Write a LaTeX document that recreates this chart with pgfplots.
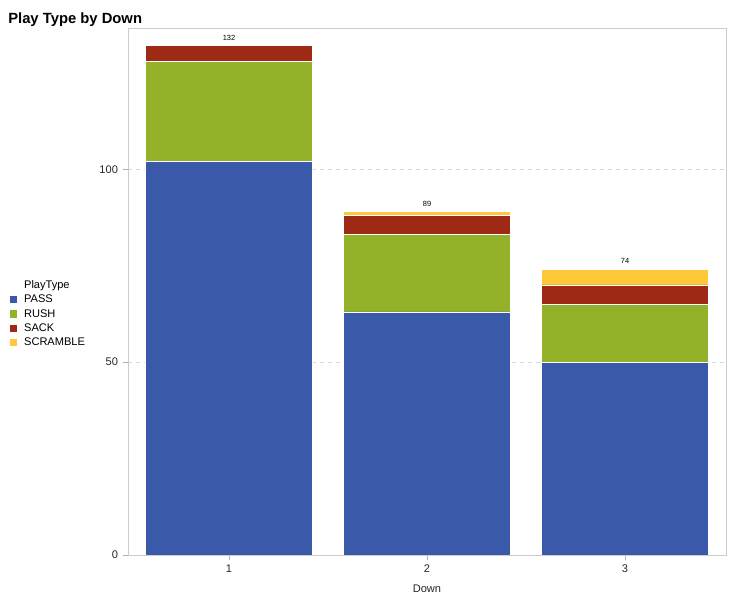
\documentclass[border=0pt]{standalone}
\usepackage{pgfplots}
\pgfplotsset{compat=1.18}
\usepackage{fontspec}
\setmainfont{Liberation Sans}
\definecolor{cpass}{HTML}{3A59A9}
\definecolor{crush}{HTML}{94B12A}
\definecolor{csack}{HTML}{9E2914}
\definecolor{cscr}{HTML}{FFC73A}
\pgfplotsset{
  commonax/.style={
    at={(96pt,33pt)}, anchor=south west, scale only axis,
    width=448.5pt, height=395.25pt,
    xmin=0.49, xmax=3.51, ymin=0, ymax=136.6,
    /pgf/number format/assume math mode=true,
  }
}
\begin{document}
\begin{tikzpicture}
\useasboundingbox (0,0) rectangle (555pt,449.25pt);
\node[anchor=base west, inner sep=0pt, font=\bfseries\fontsize{11.1}{13}\selectfont] at (6pt,431.5pt) {Play Type by Down};
\begin{axis}[
  commonax,
  ybar stacked, bar width=0.84,
  xtick={1,2,3}, ytick={0,50,100},
  ymajorgrids, grid style={dashed, color=gray!30},
  axis line style={color=gray!40},
  tick style={color=gray!60},
  tick align=outside, major tick length=4pt,
  xtick pos=left, ytick pos=left,
  tick label style={font=\fontsize{8.3}{10}\selectfont, color=black!85},
  xlabel={Down}, xlabel style={font=\fontsize{8.3}{10}\selectfont, color=black!85, yshift=-2.2pt},
  legend style={at={(-0.198,0.457)}, anchor=west, draw=none, fill=none,
    font=\fontsize{8.3}{10}\selectfont, inner sep=0pt, row sep=0.9pt,
    cells={anchor=west}, nodes={inner sep=1.3pt}},
  legend image code/.code={\fill[#1,draw=none] (0pt,-2.5pt) rectangle (5.4pt,2.9pt); \path[draw=none,fill=none] (0pt,0pt) -- (9.4pt,0pt);},
]
\addlegendimage{empty legend}
\addlegendentry{PlayType}
\addplot[fill=cpass, draw=white, line width=0.6pt] coordinates {(1,102) (2,63) (3,50)};
\addlegendentry{PASS}
\addplot[fill=crush, draw=white, line width=0.6pt] coordinates {(1,26) (2,20) (3,15)};
\addlegendentry{RUSH}
\addplot[fill=csack, draw=white, line width=0.6pt] coordinates {(1,4) (2,5) (3,5)};
\addlegendentry{SACK}
\addplot[fill=cscr, draw=white, line width=0.6pt] coordinates {(1,0) (2,1) (3,4)};
\addlegendentry{SCRAMBLE}
\end{axis}
\begin{axis}[
  commonax, hide axis, ybar, bar width=0.84,
]
\addplot[draw=none, fill=none, nodes near coords,
  every node near coord/.append style={font=\fontsize{5.6}{6}\selectfont, yshift=0.6pt, color=black}]
  coordinates {(1,132) (2,89) (3,74)};
\end{axis}
\end{tikzpicture}
\end{document}
